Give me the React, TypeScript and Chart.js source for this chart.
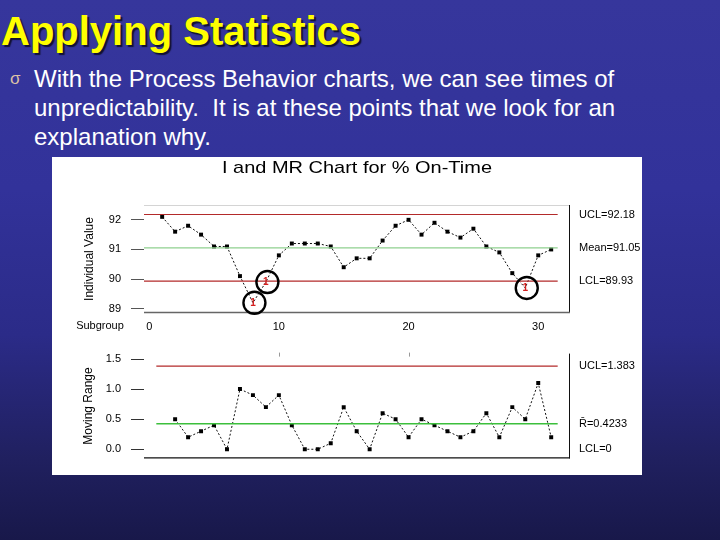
import React, { useEffect, useRef } from "react";
import { Chart, registerables } from "chart.js";

Chart.register(...registerables);

const FONT = '"Liberation Sans", Arial, Helvetica, sans-serif';
Chart.defaults.font.family = FONT;

// ---- data ----
const subgroups = [1, 2, 3, 4, 5, 6, 7, 8, 9, 10, 11, 12, 13, 14, 15, 16, 17, 18, 19, 20, 21, 22, 23, 24, 25, 26, 27, 28, 29, 30, 31];
const onTime = [92.1, 91.6, 91.8, 91.5, 91.1, 91.1, 90.1, 89.2, 89.9, 90.8, 91.2, 91.2, 91.2, 91.1, 90.4, 90.7, 90.7, 91.3, 91.8, 92.0, 91.5, 91.9, 91.6, 91.4, 91.7, 91.1, 90.9, 90.2, 89.7, 90.8, 91.0];
const movingRange = [null, 0.5, 0.2, 0.3, 0.4, 0.0, 1.0, 0.9, 0.7, 0.9, 0.4, 0.0, 0.0, 0.1, 0.7, 0.3, 0.0, 0.6, 0.5, 0.2, 0.5, 0.4, 0.3, 0.2, 0.3, 0.6, 0.2, 0.7, 0.5, 1.1, 0.2];

const iUCL = 92.18;
const iMean = 91.05;
const iLCL = 89.93;
const iLimitValues = [iUCL, iMean, iLCL];
const iLimitLabels = ["UCL=92.18", "Mean=91.05", "LCL=89.93"];

const mrUCL = 1.383;
const mrMean = 0.4233;
const mrLCL = 0;
const mrLimitValues = [mrUCL, mrMean, mrLCL];
const mrLimitLabels = ["UCL=1.383", "R\u0304=0.4233", "LCL=0"];

const iTicks = [89, 90, 91, 92];
const mrTicks = [0.0, 0.5, 1.0, 1.5];
const subgroupTicks = [0, 10, 20, 30];

const chartTitle = "I and MR Chart for % On-Time";

// ---- styles ----
const RED = "#b32a2a";
const GREEN_TOP = "#8fd08f";
const GREEN_MR = "#3cbf3c";
const X_MIN = -0.4;
const X_MAX = 32.45;
const LINE_END = 31.5;
const MR_LINE_START = 0.55;

function framePlugin(id: string, opts: { top?: string; right?: string; bottom?: string; topTicks?: number[] }) {
  return {
    id,
    afterDatasetsDraw(chart: any) {
      const { ctx, chartArea: a } = chart;
      ctx.save();
      ctx.lineWidth = 1;
      if (opts.top) {
        ctx.strokeStyle = opts.top;
        ctx.beginPath();
        ctx.moveTo(a.left, a.top + 0.5);
        ctx.lineTo(a.right, a.top + 0.5);
        ctx.stroke();
      }
      if (opts.right) {
        ctx.strokeStyle = opts.right;
        ctx.beginPath();
        ctx.moveTo(a.right - 0.5, a.top);
        ctx.lineTo(a.right - 0.5, a.bottom);
        ctx.stroke();
      }
      if (opts.bottom) {
        ctx.strokeStyle = opts.bottom;
        ctx.lineWidth = 1.3;
        ctx.beginPath();
        ctx.moveTo(a.left, a.bottom - 0.5);
        ctx.lineTo(a.right, a.bottom - 0.5);
        ctx.stroke();
      }
      if (opts.topTicks) {
        const xs = chart.scales.x;
        ctx.strokeStyle = "#999";
        ctx.lineWidth = 1;
        for (const v of opts.topTicks) {
          const px = Math.round(xs.getPixelForValue(v)) + 0.5;
          ctx.beginPath();
          ctx.moveTo(px, a.top - 1);
          ctx.lineTo(px, a.top + 3);
          ctx.stroke();
        }
      }
      ctx.restore();
    },
  };
}

const titlePlugin = {
  id: "imrTitle",
  afterDraw(chart: any) {
    const { ctx, chartArea: a } = chart;
    ctx.save();
    ctx.font = `17px ${FONT}`;
    ctx.fillStyle = "#000";
    ctx.textAlign = "center";
    ctx.textBaseline = "middle";
    const w = ctx.measureText(chartTitle).width;
    const sx = 270 / w;
    ctx.translate((a.left + a.right) / 2, 11.5);
    ctx.scale(sx, 1);
    ctx.fillText(chartTitle, 0, 0);
    ctx.restore();

    ctx.save();
    ctx.font = `11px ${FONT}`;
    ctx.fillStyle = "#000";
    ctx.textAlign = "center";
    ctx.textBaseline = "middle";
    ctx.fillText("Subgroup", 48, a.bottom + 13);
    ctx.restore();
  },
};

const flagPlugin = {
  id: "flags",
  afterDatasetsDraw(chart: any) {
    const { ctx } = chart;
    const idx = chart.data.datasets.findIndex((d: any) => d.label === "% On-Time");
    const meta = chart.getDatasetMeta(idx);
    ctx.save();
    onTime.forEach((v, i) => {
      if (v >= iLCL) return;
      const el = meta.data[i];
      ctx.fillStyle = "#d42020";
      ctx.font = `bold 10px ${FONT}`;
      ctx.textAlign = "center";
      ctx.textBaseline = "middle";
      ctx.fillText("1", el.x, el.y);
      ctx.strokeStyle = "#000";
      ctx.lineWidth = 2.4;
      ctx.beginPath();
      ctx.arc(el.x + 1.5, el.y, 11, 0, Math.PI * 2);
      ctx.stroke();
    });
    ctx.restore();
  },
};

function limitDataset(label: string, y: number, x0: number, color: string, width: number) {
  return {
    label,
    data: [
      { x: x0, y },
      { x: LINE_END, y },
    ],
    borderColor: color,
    borderWidth: width,
    pointRadius: 0,
    fill: false,
  };
}

const tickFont = { size: 11, family: FONT };

export default function App() {
  const topRef = useRef<HTMLCanvasElement | null>(null);
  const mrRef = useRef<HTMLCanvasElement | null>(null);

  useEffect(() => {
    const topChart = new Chart(topRef.current as HTMLCanvasElement, {
      type: "line",
      data: {
        datasets: [
          limitDataset("UCL", iUCL, X_MIN, RED, 1.2),
          limitDataset("Mean", iMean, X_MIN, GREEN_TOP, 1.2),
          limitDataset("LCL", iLCL, X_MIN, RED, 1.2),
          {
            label: "% On-Time",
            data: subgroups.map((s, i) => ({ x: s, y: onTime[i] })),
            borderColor: "#111",
            borderWidth: 1,
            borderDash: [2, 2],
            pointStyle: "rect",
            pointRadius: (c: any) => (onTime[c.dataIndex] < iLCL ? 0 : 2.8),
            pointBackgroundColor: "#000",
            pointBorderWidth: 0,
            fill: false,
          } as any,
        ],
      },
      options: {
        responsive: false,
        animation: false,
        layout: { padding: { top: 48, left: 0, right: 0, bottom: 0 } },
        plugins: { legend: { display: false }, tooltip: { enabled: false }, title: { display: false } },
        scales: {
          x: {
            type: "linear",
            min: X_MIN,
            max: X_MAX,
            afterBuildTicks: (s: any) => {
              s.ticks = subgroupTicks.map((v) => ({ value: v }));
            },
            grid: { display: false, drawTicks: false },
            border: { display: false },
            ticks: { padding: 7, color: "#000", font: tickFont, maxRotation: 0, callback: (v: any) => String(v) },
            afterFit: (s: any) => {
              s.height = 24;
            },
          },
          y: {
            position: "left",
            min: 88.855,
            max: 92.5,
            afterBuildTicks: (s: any) => {
              s.ticks = iTicks.map((v) => ({ value: v }));
            },
            grid: { display: true, drawOnChartArea: false, drawTicks: true, tickLength: 13, tickColor: "#555", tickWidth: 1 },
            border: { display: false },
            ticks: { padding: 10, color: "#000", font: tickFont, callback: (v: any) => String(v) },
            title: { display: true, text: "Individual Value", color: "#000", font: { size: 12, family: FONT }, padding: { top: 30, bottom: 0 } },
            afterFit: (s: any) => {
              s.width = 92;
            },
          },
          yr: {
            position: "right",
            min: 88.855,
            max: 92.5,
            afterBuildTicks: (s: any) => {
              s.ticks = iLimitValues.map((v) => ({ value: v }));
            },
            grid: { display: false, drawTicks: false },
            border: { display: false },
            ticks: {
              padding: 9,
              color: "#000",
              font: tickFont,
              autoSkip: false,
              callback: (v: any) => iLimitLabels[iLimitValues.indexOf(v)],
            },
            afterFit: (s: any) => {
              s.width = 72;
            },
          },
        },
      } as any,
      plugins: [framePlugin("topFrame", { top: "#d4d4d4", right: "#111", bottom: "#666" }), titlePlugin, flagPlugin] as any,
    });

    const mrChart = new Chart(mrRef.current as HTMLCanvasElement, {
      type: "line",
      data: {
        datasets: [
          limitDataset("UCL", mrUCL, MR_LINE_START, RED, 1.2),
          limitDataset("Rbar", mrMean, MR_LINE_START, GREEN_MR, 1.6),
          {
            label: "Moving Range",
            data: subgroups.map((s, i) => ({ x: s, y: movingRange[i] })),
            borderColor: "#111",
            borderWidth: 1,
            borderDash: [2, 2],
            pointStyle: "rect",
            pointRadius: 2.8,
            pointBackgroundColor: "#000",
            pointBorderWidth: 0,
            fill: false,
          } as any,
        ],
      },
      options: {
        responsive: false,
        animation: false,
        layout: { padding: { top: 16, left: 0, right: 0, bottom: 11 } },
        plugins: { legend: { display: false }, tooltip: { enabled: false }, title: { display: false } },
        scales: {
          x: { type: "linear", min: X_MIN, max: X_MAX, display: false },
          y: {
            position: "left",
            min: -0.152,
            max: 1.59,
            afterBuildTicks: (s: any) => {
              s.ticks = mrTicks.map((v) => ({ value: v }));
            },
            grid: { display: true, drawOnChartArea: false, drawTicks: true, tickLength: 13, tickColor: "#333", tickWidth: 1 },
            border: { display: false },
            ticks: { padding: 10, color: "#000", font: tickFont, callback: (v: any) => Number(v).toFixed(1) },
            title: { display: true, text: "Moving Range", color: "#000", font: { size: 12, family: FONT }, padding: { top: 29, bottom: 0 } },
            afterFit: (s: any) => {
              s.width = 92;
            },
          },
          yr: {
            position: "right",
            min: -0.152,
            max: 1.59,
            afterBuildTicks: (s: any) => {
              s.ticks = mrLimitValues.map((v) => ({ value: v }));
            },
            grid: { display: false, drawTicks: false },
            border: { display: false },
            ticks: {
              padding: 9,
              color: "#000",
              font: tickFont,
              autoSkip: false,
              callback: (v: any) => mrLimitLabels[mrLimitValues.indexOf(v)],
            },
            afterFit: (s: any) => {
              s.width = 72;
            },
          },
        },
      } as any,
      plugins: [framePlugin("mrFrame", { right: "#111", bottom: "#111", topTicks: [10, 20] })] as any,
    });

    return () => {
      topChart.destroy();
      mrChart.destroy();
    };
  }, []);

  return (
    <div
      style={{
        position: "absolute",
        left: 0,
        top: 0,
        width: 720,
        height: 540,
        overflow: "hidden",
        background: "linear-gradient(180deg, #36369c 0%, #32329a 35%, #2b2b88 62%, #20205f 85%, #18184a 100%)",
        fontFamily: FONT,
      }}
    >
      <div
        style={{
          position: "absolute",
          left: 1,
          top: 11,
          fontSize: 40,
          lineHeight: "40px",
          fontWeight: "bold",
          color: "#ffff00",
          textShadow: "2px 2px 1px rgba(10,10,30,0.85)",
          whiteSpace: "nowrap",
        }}
      >
        Applying Statistics
      </div>
      <div style={{ position: "absolute", left: 10, top: 69, fontSize: 17, lineHeight: "20px", color: "#dcc2a6" }}>σ</div>
      <div
        style={{
          position: "absolute",
          left: 34,
          top: 64,
          fontSize: 24,
          lineHeight: "29px",
          color: "#ffffff",
          whiteSpace: "nowrap",
        }}
      >
        With the Process Behavior charts, we can see times of
        <br />
        unpredictability.{"\u00a0 "}It is at these points that we look for an
        <br />
        explanation why.
      </div>
      <div style={{ position: "absolute", left: 52, top: 157, width: 590, height: 318, background: "#ffffff" }}>
        <canvas ref={topRef} width={590} height={180} style={{ position: "absolute", left: 0, top: 0, display: "block" }} />
        <canvas ref={mrRef} width={590} height={138} style={{ position: "absolute", left: 0, top: 180, display: "block" }} />
      </div>
    </div>
  );
}
